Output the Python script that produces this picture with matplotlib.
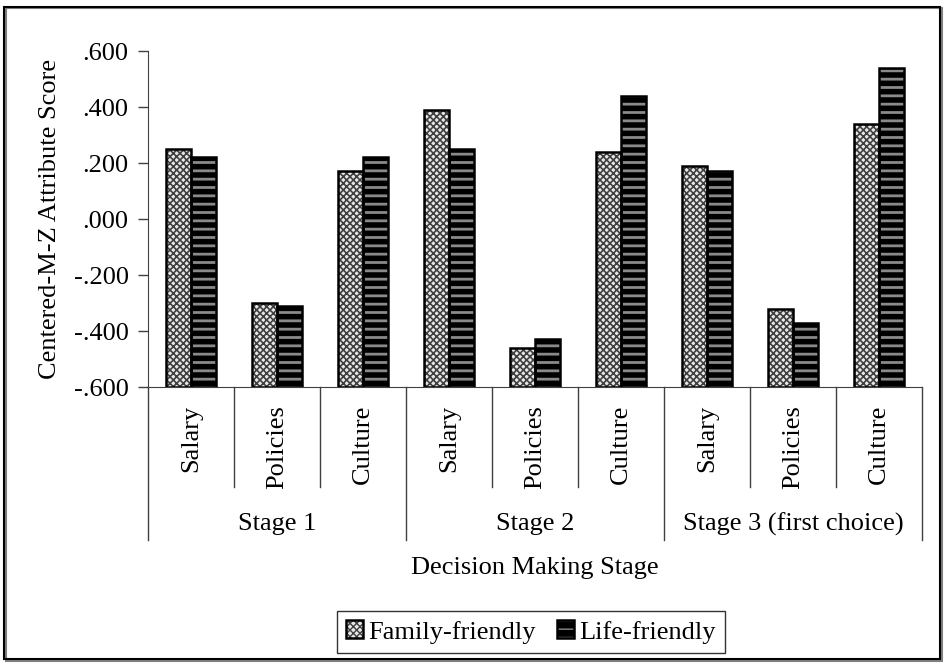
import numpy as np
import matplotlib.pyplot as plt
import matplotlib.transforms as mtransforms
from matplotlib.patches import Rectangle
from matplotlib.legend_handler import HandlerTuple

plt.rcParams['font.family'] = ['Liberation Serif', 'DejaVu Serif']

stages = ["Stage 1", "Stage 2", "Stage 3 (first choice)"]
attributes = ["Salary", "Policies", "Culture"]
family_friendly = [0.25, -0.30, 0.17, 0.39, -0.46, 0.24, 0.19, -0.32, 0.34]
life_friendly = [0.22, -0.31, 0.22, 0.25, -0.43, 0.44, 0.17, -0.37, 0.54]
yticks = [-0.6, -0.4, -0.2, 0.0, 0.2, 0.4, 0.6]

W, H = 947, 666
fig = plt.figure(figsize=(W / 100, H / 100), dpi=100)
ax = fig.add_axes([148 / W, 1 - 387 / H, (922 - 148) / W, (387 - 51) / H])

base = yticks[0]
n = len(family_friendly)
x = np.arange(n) + 0.5
w = 0.295
fs = 19

# fill layers (hatch colour = edgecolor), then black outlines on top
with plt.rc_context({'hatch.linewidth': 1.2}):
    ff_fill = ax.bar(x - w / 2, np.array(family_friendly) - base, bottom=base, width=w,
                     color='#e8e8e8', edgecolor='#404040', hatch='xxxxx', linewidth=0)
with plt.rc_context({'hatch.linewidth': 2.0}):
    lf_fill = ax.bar(x + w / 2, np.array(life_friendly) - base, bottom=base, width=w,
                     color='black', edgecolor='#8a8a8a', hatch='--', linewidth=0)
ff_edge = ax.bar(x - w / 2, np.array(family_friendly) - base, bottom=base, width=w,
                 fill=False, edgecolor='black', linewidth=1.8)
lf_edge = ax.bar(x + w / 2, np.array(life_friendly) - base, bottom=base, width=w,
                 fill=False, edgecolor='black', linewidth=1.8)

ax.set_xlim(0, n)
ax.set_ylim(yticks[0], yticks[-1])
ax.set_yticks(yticks)
ax.set_yticklabels([f"{v:.3f}".replace("0.", ".", 1) for v in yticks], fontsize=fs)
ax.tick_params(axis='y', direction='out', length=7, width=1, color='#404040', pad=7)
ax.set_xticks([])
for s in ['top', 'right']:
    ax.spines[s].set_visible(False)
for s in ['left', 'bottom']:
    ax.spines[s].set_color('#404040')

fy = lambda py: 1 - py / H
fig.text(50 / W, fy(219), "Centered-M-Z Attribute Score", rotation=90,
         ha='center', va='center', fontsize=fs)

# category axis: separators and labels below the plot
tr = mtransforms.blended_transform_factory(ax.transData, fig.transFigure)
for i in range(n + 1):
    bottom = 540 if i % 3 == 0 else 487
    ax.plot([i, i], [fy(387), fy(bottom)], transform=tr, color='#404040',
            lw=1, clip_on=False)
for i in range(n):
    ax.text(x[i], fy(405), attributes[i % 3], transform=tr, rotation=90,
            ha='center', va='top', fontsize=fs)
for j, st in enumerate(stages):
    ax.text(3 * j + 1.5, fy(524), st, transform=tr, ha='center', va='center',
            fontsize=fs)
fig.text((148 + 922) / 2 / W, fy(568), "Decision Making Stage", ha='center',
         va='center', fontsize=fs)

leg = fig.legend([(ff_fill[0], ff_edge[0]), (lf_fill[0], lf_edge[0])],
                 ["Family-friendly", "Life-friendly"],
                 handler_map={tuple: HandlerTuple(ndivide=1)},
                 loc='center', bbox_to_anchor=(531 / W, fy(632)), ncol=2,
                 fontsize=fs, frameon=True, fancybox=False, edgecolor='black',
                 handlelength=0.65, handleheight=0.65, handletextpad=0.2,
                 columnspacing=0.8, borderpad=0.35, borderaxespad=0)
leg.get_frame().set_linewidth(1.0)

# outer frame with slight shadow
fig.patches.append(Rectangle((6 / W, 1 - 661 / H), 936 / W, 653 / H,
                             transform=fig.transFigure, fill=False,
                             edgecolor='#808080', lw=1.5))
fig.patches.append(Rectangle((4 / W, 1 - 659 / H), 936 / W, 652 / H,
                             transform=fig.transFigure, fill=False,
                             edgecolor='black', lw=1.5))

fig.savefig("out.png", dpi=100)
